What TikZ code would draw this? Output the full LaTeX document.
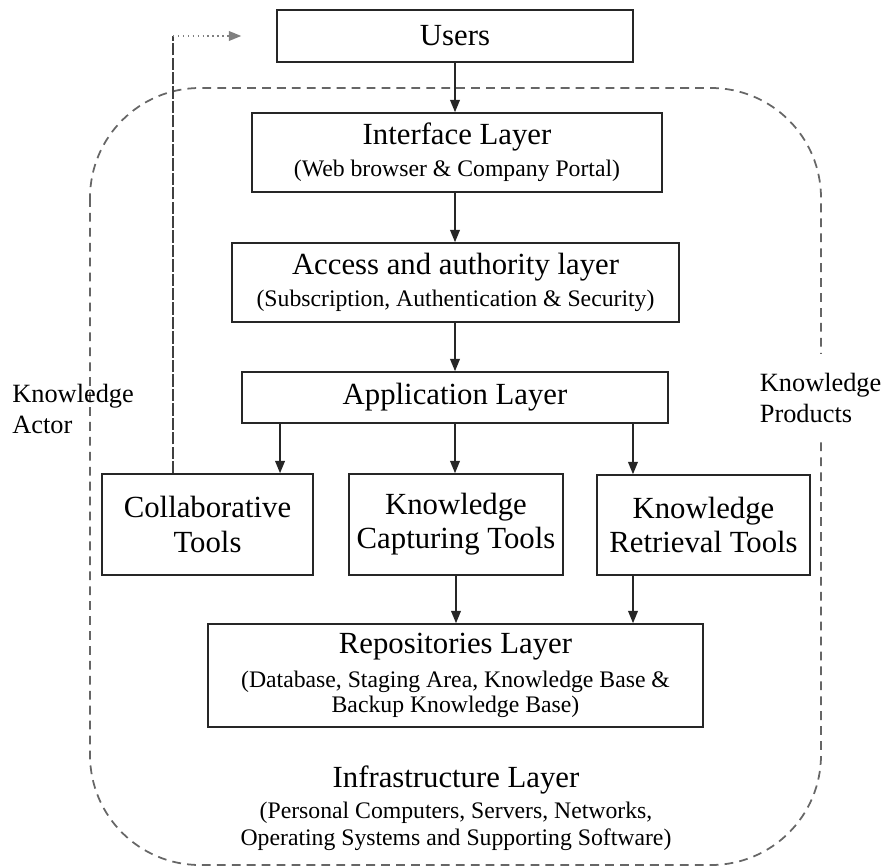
\documentclass[tikz,border=0pt]{standalone}
\usepackage{fontspec}
\setmainfont{Liberation Serif}
\usetikzlibrary{arrows.meta}
\newcommand{\ttl}{\fontsize{17.5}{19.5}\selectfont}
\newcommand{\subttl}{\fontsize{13.5}{13.5}\selectfont}
\newcommand{\lbl}{\fontsize{15}{18}\selectfont}
\begin{document}
\begin{tikzpicture}[x=0.02cm,y=-0.02cm,
  layer/.style={draw=black!85,line width=0.9pt,align=center,inner sep=0pt,font=\ttl},
  arr/.style={-{Triangle[length=7pt,width=5.5pt]},line width=0.9pt,black!85},
  frame/.style={gray!80!black,line width=1pt,dash pattern=on 5pt off 3.5pt,rounded corners=2.2cm},
  side/.style={font=\lbl,align=left,anchor=west,inner sep=0pt}]
\useasboundingbox (0,0) rectangle (885,868);
% dashed frame round the knowledge products
\draw[frame] (90,88) rectangle (821,865);
\node[layer,minimum width=7.12cm,minimum height=1.04cm] (users) at (455,36) {Users};
\node[layer,minimum width=8.2cm,minimum height=1.58cm] (iface) at (457,152.5)
  {Interface Layer\\[-1.5pt] \subttl (Web browser \& Company Portal)};
\node[layer,minimum width=8.94cm,minimum height=1.58cm] (access) at (455.5,282.5)
  {Access and authority layer\\[-1.5pt] \subttl (Subscription, Authentication \& Security)};
\node[layer,minimum width=8.52cm,minimum height=1.02cm] (app) at (455,397.5) {Application Layer};
\node[layer,minimum width=4.22cm,minimum height=2.02cm] (collab) at (207.5,524.5) {Collaborative\\Tools};
\node[layer,minimum width=4.28cm,minimum height=2.02cm] (capture) at (456,524.5) {Knowledge\\Capturing Tools};
\node[layer,minimum width=4.26cm,minimum height=2cm] (retrieve) at (703.5,525) {Knowledge\\Retrieval Tools};
\node[layer,minimum width=9.9cm,minimum height=2.06cm] (repo) at (455.5,675.5)
  {Repositories Layer\\ \subttl (Database, Staging Area, Knowledge Base \&\\[-5.5pt] \subttl Backup Knowledge Base)};
\node[font=\ttl,align=center,inner sep=0pt] (infra) at (456,808)
  {Infrastructure Layer\\[-2pt] \subttl (Personal Computers, Servers, Networks,\\[-4pt] \subttl Operating Systems and Supporting Software)};
\node[side] (actor) at (12,409) {Knowledge\\Actor};
\node[side,fill=white,inner xsep=2pt,inner ysep=0.38cm] (products) at (756,398) {Knowledge\\Products};
% arrows down the layers
\draw[arr] (users.south) -- (users.south |- iface.north);
\draw[arr] (iface.south -| users.south) -- (users.south |- access.north);
\draw[arr] (access.south -| users.south) -- (users.south |- app.north);
\coordinate (a1) at ([xshift=-3.5cm]app.south);
\coordinate (a3) at ([xshift=3.56cm]app.south);
\draw[arr] (a1) -- (a1 |- collab.north);
\draw[arr] (app.south) -- (app.south |- capture.north);
\draw[arr] (a3) -- (a3 |- retrieve.north);
\draw[arr] (capture.south) -- (capture.south |- repo.north);
\coordinate (r1) at ([xshift=-1.41cm]retrieve.south);
\draw[arr] (r1) -- (r1 |- repo.north);
% knowledge actor loop back to the users
\coordinate (c1) at ([xshift=-0.69cm]collab.north);
\coordinate (actorend) at ([xshift=-0.7cm]users.west);
\draw[black!75,line width=0.9pt,dash pattern=on 7pt off 1.2pt] (c1) -- (c1 |- actorend);
\draw[gray,line width=0.8pt,dotted,-{Triangle[length=7pt,width=5.5pt]}] (c1 |- actorend) -- (actorend);
\end{tikzpicture}
\end{document}
